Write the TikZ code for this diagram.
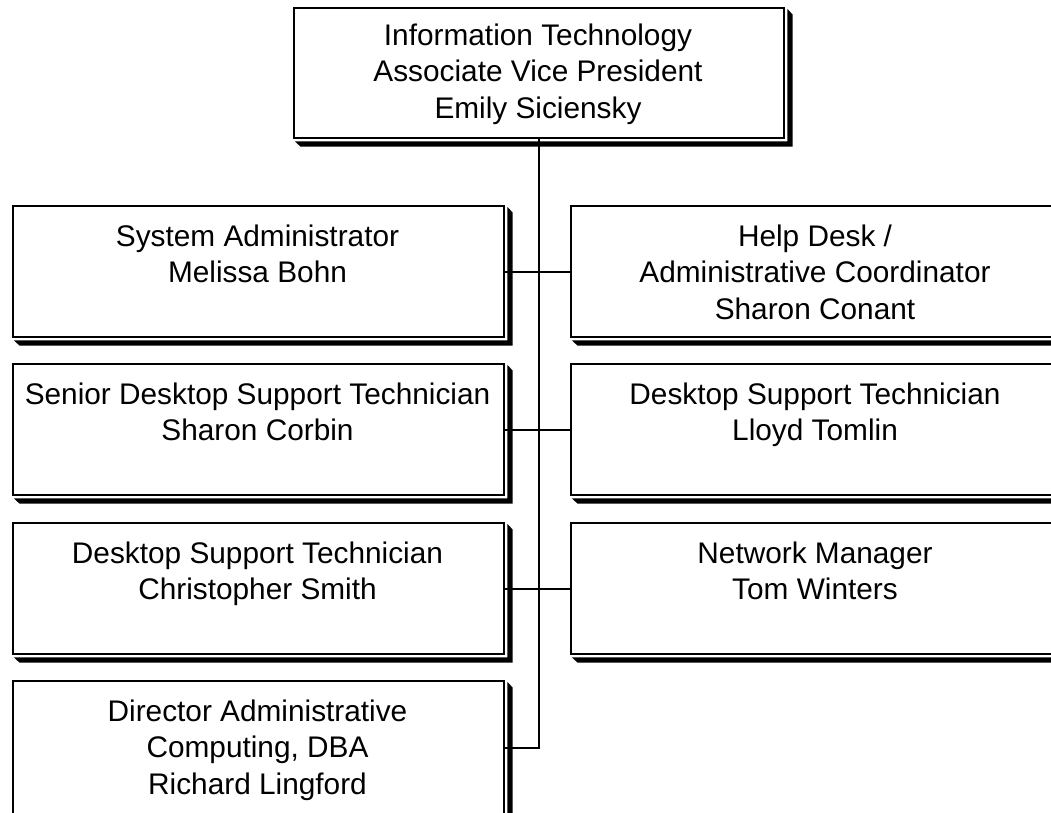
\documentclass[tikz,border=0pt]{standalone}
\usepackage{fontspec}
\setmainfont{Liberation Sans}
\begin{document}
\begin{tikzpicture}[x=1pt,y=-1pt,
  box/.style={draw=black, fill=white, line width=2.1pt, rectangle, inner sep=0pt, anchor=north west},
  lbl/.style={align=center, font=\fontsize{29.8}{36.5}\selectfont, inner sep=0pt, anchor=base},
  link/.style={line width=2.1pt},
  shadowfill/.style={fill=black}]
\useasboundingbox (0,0) rectangle (1051,812);
\clip (0,0) rectangle (1051,812);

% boxes
\node[box, minimum width=490pt, minimum height=130pt] (top) at (293,7) {};
\node[box, minimum width=491pt, minimum height=131pt] (l1) at (12,205) {};
\node[box, minimum width=491pt, minimum height=131pt] (r1) at (570,205) {};
\node[box, minimum width=491pt, minimum height=131pt] (l2) at (12,363) {};
\node[box, minimum width=491pt, minimum height=131pt] (r2) at (570,363) {};
\node[box, minimum width=491pt, minimum height=131pt] (l3) at (12,522) {};
\node[box, minimum width=491pt, minimum height=131pt] (r3) at (570,522) {};
\node[box, minimum width=491pt, minimum height=134pt] (l4) at (12,680) {};

% shadows
\foreach \n in {top,l1,r1,l2,r2,l3,r3,l4}{
  \fill[shadowfill] ([shift={(2.2,1.8)}]\n.north east) -- ([shift={(7.5,7.5)}]\n.north east)
    -- ([shift={(7.5,7.5)}]\n.south east) -- ([shift={(7.5,7.5)}]\n.south west)
    -- ([shift={(1.8,2.2)}]\n.south west) -- ([shift={(2.2,2.2)}]\n.south east) -- cycle;
}

% connectors
\draw[link] (top.south) -- (top.south |- l4.east) -- (l4.east);
\draw[link] (l1.east) -- (r1.west);
\draw[link] (l2.east) -- (r2.west);
\draw[link] (l3.east) -- (r3.west);

% labels (base anchor = baseline of the last line)
\node[lbl] (ttop) at (538,118) {Information Technology\\Associate Vice President\\Emily Siciensky};
\node[lbl] (tl1) at (257.5,282.5) {System Administrator\\Melissa Bohn};
\node[lbl] (tr1) at (815,319) {Help Desk /\\Administrative Coordinator\\Sharon Conant};
\node[lbl] (tl2) at (257.5,440.5) {Senior Desktop Support Technician\\Sharon Corbin};
\node[lbl] (tr2) at (815,440.5) {Desktop Support Technician\\Lloyd Tomlin};
\node[lbl] (tl3) at (257.5,599.5) {Desktop Support Technician\\Christopher Smith};
\node[lbl] (tr3) at (815,599.5) {Network Manager\\Tom Winters};
\node[lbl] (tl4) at (257.5,794) {Director Administrative\\Computing, DBA\\Richard Lingford};
\end{tikzpicture}
\end{document}
